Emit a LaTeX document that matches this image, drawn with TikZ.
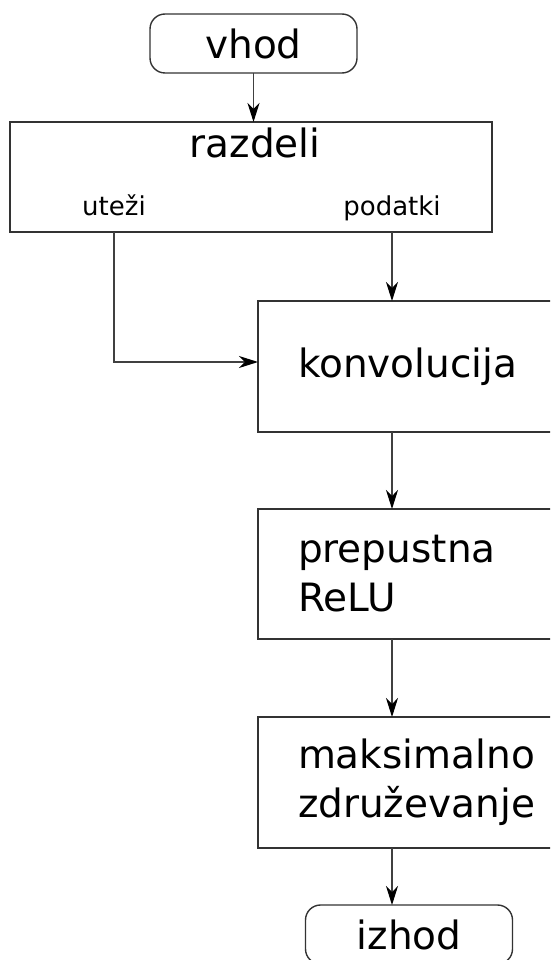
\documentclass[tikz,border=0pt]{standalone}
\usepackage{fontspec}
\setmainfont{DejaVu Sans}
\usetikzlibrary{arrows.meta}
\newcommand\diagbig{\fontsize{39}{49}\selectfont}
\newcommand\diagsmall{\fontsize{26}{32}\selectfont}
\begin{document}
\begin{tikzpicture}[x=1pt, y=-1pt,
  every node/.style={inner sep=0pt, outer sep=0pt},
  outline/.style={draw=black!80, line width=1.4pt},
  terminal/.style={outline, rounded corners=15pt, minimum width=207pt,
    minimum height=59pt, font=\diagbig},
  splitbox/.style={outline, minimum width=482pt, minimum height=110pt},
  stage/.style={outline, anchor=west, text width=250pt, inner xsep=40pt,
    align=left, font=\diagbig},
  flow/.style={draw=black!75, line width=1.1pt,
    -{Stealth[length=19pt,width=12pt,inset=6pt,color=black]}}]
  \clip (0,0) rectangle (550,960);

  % start and splitter
  \node[terminal] (in) at (253.5,43.5) {vhod};
  \node[splitbox] (split) at (251,177) {};
  \node[font=\diagbig, anchor=base] (splittitle) at (255,158) {razdeli};
  \node[font=\diagsmall, anchor=base] (w) at (114,215) {uteži};
  \node[font=\diagsmall, anchor=base] (d) at (392,215) {podatki};

  % processing stages
  \node[stage, minimum height=131pt] (conv) at (258,366.5) {konvolucija};
  \node[stage, minimum height=130pt] (relu) at (258,574) {prepustna\\ReLU};
  \node[stage, minimum height=131pt] (pool) at (258,782.5) {maksimalno\\združevanje};
  \node[terminal] (out) at (409,934.5) {izhod};

  % connectors
  \draw[flow] (in.south) -- (in.south |- split.north);
  \draw[flow] (w |- split.south) |- ([yshift=4.5pt]conv.west);
  \draw[flow] (d |- split.south) -- (d |- conv.north);
  \draw[flow] (d |- conv.south) -- (d |- relu.north);
  \draw[flow] (d |- relu.south) -- (d |- pool.north);
  \draw[flow] (d |- pool.south) -- (d |- out.north);
\end{tikzpicture}
\end{document}
